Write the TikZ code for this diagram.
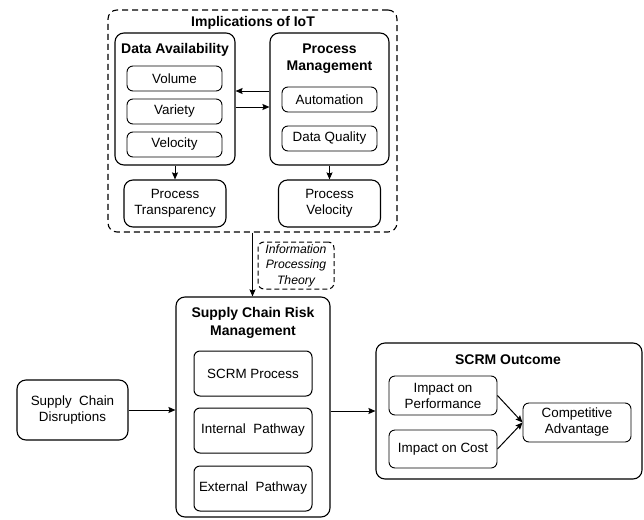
\documentclass[tikz,border=0pt]{standalone}
\usepackage{fontspec}
\setmainfont{Liberation Sans}
\usepackage{tikz}
\usetikzlibrary{arrows.meta}
\usetikzlibrary{calc}

\begin{document}
\begin{tikzpicture}[
    x=1pt, y=-1pt,
    every node/.style={color=black, font=\fontsize{13.4}{16}\selectfont, align=center, inner sep=0pt},
    big box/.style={draw, line width=1.1pt, rounded corners=9pt},
    small box/.style={draw, line width=0.9pt, rounded corners=6pt},
    dashed box/.style={draw, dash pattern=on 6pt off 4pt, line width=1.1pt, rounded corners=9pt},
    title/.style={font=\fontsize{14}{17.5}\selectfont\bfseries},
    arrow line/.style={-{Stealth[length=7pt, width=6pt, inset=1pt]}, line width=1pt}
    ]
    \useasboundingbox (0,0) rectangle (644,519);

    % implications of IoT
    \node[dashed box, minimum width=289pt, minimum height=222pt] (iot) at (252.5,121) {};
    \node[title] (iottitle) at (253,23) {Implications of IoT};
    \node[big box, minimum width=120pt, minimum height=132pt] (da) at (175,99) {};
    \node[title] (datitle) at (175,50) {Data Availability};
    \node[small box, minimum width=95pt, minimum height=25pt] (vol) at (174.5,78.5) {Volume};
    \node[small box, minimum width=95pt, minimum height=25pt] (var) at (174.5,111.5) {Variety};
    \node[small box, minimum width=95pt, minimum height=25pt] (vel) at (174.5,144.5) {Velocity};
    \node[big box, minimum width=119pt, minimum height=132pt] (pm) at (329.5,99) {};
    \node[title] (pmtitle) at (329.5,58.5) {Process\\Management};
    \node[small box, minimum width=95pt, minimum height=25pt] (aut) at (329.5,99.5) {Automation};
    \node[small box, minimum width=95pt, minimum height=25pt] (dq) at (329.5,138.5) {Data Quality};
    \node[big box, minimum width=102pt, minimum height=47pt] (pt) at (175,203.5) {Process\\Transparency};
    \node[big box, minimum width=102pt, minimum height=47pt] (pv) at (329.5,203.5) {Process\\Velocity};

    % theory
    \node[dashed box, dash pattern=on 5pt off 3pt, line width=1pt, rounded corners=6pt, minimum width=76pt, minimum height=47pt,
          font=\fontsize{12.2}{15.5}\selectfont\itshape] (ipt) at (296,265.5) {Information\\Processing\\Theory};

    % supply chain risk management
    \node[big box, minimum width=154pt, minimum height=220pt] (scrm) at (253,407) {};
    \node[title] (scrmtitle) at (253,323) {Supply Chain Risk\\Management};
    \node[small box, line width=1pt, minimum width=118pt, minimum height=45pt] (sp) at (253,373.5) {SCRM Process};
    \node[small box, line width=1pt, minimum width=118pt, minimum height=45pt] (ip) at (253,430.5) {Internal\ \ Pathway};
    \node[small box, line width=1pt, minimum width=118pt, minimum height=45pt] (ep) at (253,488.5) {External\ \ Pathway};
    \node[big box, minimum width=111pt, minimum height=60pt] (scd) at (72.5,410) {Supply\ \ Chain\\Disruptions};

    % outcome
    \node[big box, minimum width=266pt, minimum height=136pt] (out) at (509,411) {};
    \node[title] (outtitle) at (508,360) {SCRM Outcome};
    \node[small box, minimum width=108pt, minimum height=39pt] (iop) at (443,395.5) {Impact on\\Performance};
    \node[small box, minimum width=108pt, minimum height=38pt] (ioc) at (443,449) {Impact on Cost};
    \node[small box, minimum width=108pt, minimum height=39pt] (ca) at (577,422.5) {Competitive\\Advantage};

    % arrows
    \draw[arrow line] ([yshift=8pt]pm.west) -- ([yshift=8pt]pm.west -| da.east);
    \draw[arrow line] ([yshift=-8pt]da.east) -- ([yshift=-8pt]da.east -| pm.west);
    \draw[arrow line] (da.south) -- (pt.north);
    \draw[arrow line] (pm.south) -- (pv.north);
    \draw[arrow line] (iot.south) -- (iot.south |- scrm.north);
    \draw[arrow line] (scd.east) -- (scd.east -| scrm.west);
    \draw[arrow line] (out.west -| scrm.east) -- (out.west);
    \draw[arrow line] (iop.east) -- (ca.west);
    \draw[arrow line] (ioc.east) -- (ca.west);
\end{tikzpicture}
\end{document}
